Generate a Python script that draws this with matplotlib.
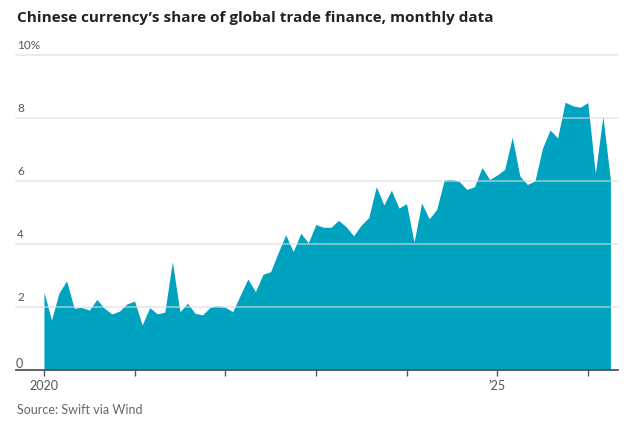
import matplotlib
matplotlib.use("Agg")
import matplotlib.pyplot as plt
import numpy as np

plt.rcParams['font.family'] = ['Lato', 'DejaVu Sans']

months = list(range(76))  # Jan 2020 .. Apr 2026
share = [2.47, 1.59, 2.45, 2.83, 1.96, 1.99, 1.90, 2.24, 1.96, 1.78, 1.87, 2.10,
         2.19, 1.43, 1.98, 1.78, 1.84, 3.44, 1.85, 2.12, 1.80, 1.75, 1.99, 2.04,
         1.99, 1.85, 2.38, 2.89, 2.49, 3.04, 3.12, 3.72, 4.29, 3.76, 4.34, 4.04,
         4.62, 4.53, 4.53, 4.75, 4.55, 4.26, 4.60, 4.84, 5.82, 5.24, 5.71, 5.14,
         5.28, 4.06, 5.30, 4.80, 5.10, 6.03, 6.05, 5.98, 5.73, 5.82, 6.43, 6.05,
         6.19, 6.37, 7.39, 6.16, 5.89, 6.00, 7.04, 7.62, 7.37, 8.50, 8.39, 8.34,
         8.49, 6.24, 8.06, 6.03]
year_ticks = [0, 12, 24, 36, 48, 60, 72]
year_labels = ["2020", "", "", "", "", "\u201925", ""]
y_ticks = [2, 4, 6, 8, 10]
y_labels = ["2", "4", "6", "8", "10%"]

fig = plt.figure(figsize=(6.24, 4.33), dpi=100)
ax = fig.add_axes([16/624, 1-370/433, (618-16)/624, (370-55)/433])

ax.fill_between(months, share, 0, color='#00a3bf', linewidth=0, zorder=2)
ax.set_xlim(-3.7, 76.0)
ax.set_ylim(0, 10)

for v in y_ticks:
    ax.axhline(v, color='#dcdcdc', alpha=0.65, linewidth=1.2, zorder=3, clip_on=False)
ax.text(0, 0, "0", transform=ax.get_yaxis_transform(), ha='left', va='bottom',
        fontsize=9, color='#555555')
for v, lab in zip(y_ticks, y_labels):
    ax.annotate(lab, xy=(0, v), xycoords=('axes fraction', 'data'),
                xytext=(1, 3), textcoords='offset points', ha='left', va='bottom',
                fontsize=8.5, color='#555555')

for s in ['top', 'right', 'left']:
    ax.spines[s].set_visible(False)
ax.spines['bottom'].set_color('#555555')
ax.spines['bottom'].set_linewidth(1.3)
ax.spines['bottom'].set_zorder(4)
ax.set_yticks([])
ax.set_xticks(year_ticks)
ax.set_xticklabels(year_labels)
ax.tick_params(axis='x', length=4, width=1, color='#555555', labelsize=9,
               labelcolor='#555555', pad=3)

fig.text(17/624, 1-18/433, "Chinese currency\u2019s share of global trade finance, monthly data",
         ha='left', va='center', fontsize=11, fontweight='bold', color='#222222',
         family=['Open Sans', 'DejaVu Sans'])
fig.text(17/624, 1-410/433, "Source: Swift via Wind", ha='left', va='center',
         fontsize=9, color='#666666')

fig.savefig("out.png", dpi=100)
